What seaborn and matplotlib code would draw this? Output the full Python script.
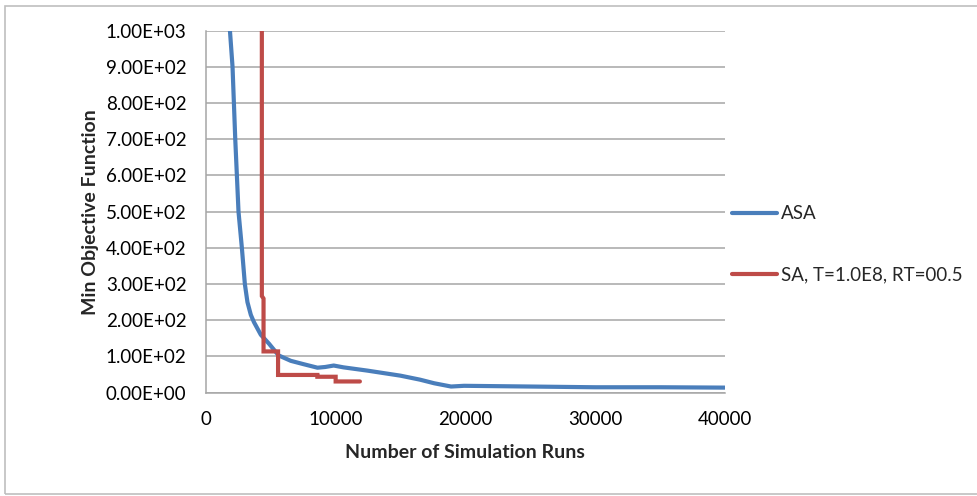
import matplotlib
matplotlib.use('Agg')
import matplotlib.pyplot as plt
from matplotlib.patches import Rectangle
from matplotlib.ticker import FuncFormatter
import pandas as pd
import seaborn as sns

# values
asa_runs = [1850, 2050, 2260, 2510, 2770, 3000, 3200, 3460, 3700, 4230, 4870, 5600,
            6540, 7500, 8600, 9200, 9850, 10600, 12440, 15000, 16500, 17600, 18900,
            19900, 25000, 30000, 35000, 40000]
asa_obj = [1000, 900, 700, 500, 400, 300, 250, 215, 195, 160, 135, 103,
           88, 79, 69, 71, 75, 70, 61, 47, 36, 26, 17,
           19, 17, 15, 15, 14]
sa_runs = [4310, 4310, 4440, 4440, 5560, 5560, 8590, 8590, 10000, 10000, 11870]
sa_obj = [1000, 267, 260, 114, 114, 49, 49, 44, 44, 31, 31]
labels = ['ASA', 'SA, T=1.0E8, RT=00.5']
colors = ['#4A7EBB', '#BE4B48']

sns.set_style('white')
plt.rcParams['font.family'] = ['Lato', 'DejaVu Sans']

fig = plt.figure(figsize=(9.77, 4.96), dpi=100)
ax = fig.add_axes([0.2108, 0.2083, 0.5310, 0.7298])

asa = pd.DataFrame({'runs': asa_runs, 'obj': asa_obj})
sa = pd.DataFrame({'runs': sa_runs, 'obj': sa_obj})
sns.lineplot(data=asa, x='runs', y='obj', ax=ax, color=colors[0], lw=3,
             sort=False, estimator=None, label=labels[0])
sns.lineplot(data=sa, x='runs', y='obj', ax=ax, color=colors[1], lw=3,
             sort=False, estimator=None, label=labels[1], solid_joinstyle='miter')

ax.set_xlim(0, 40000)
ax.set_ylim(0, 1000)
ax.set_xticks([0, 10000, 20000, 30000, 40000])
ax.set_yticks(range(0, 1001, 100))
ax.yaxis.set_major_formatter(FuncFormatter(lambda v, p: f'{v:.2E}'))
ax.grid(axis='y', color='#A6A6A6', lw=1.1)
ax.set_axisbelow(True)
for s in ['top', 'right']:
    ax.spines[s].set_visible(False)
for s in ['left', 'bottom']:
    ax.spines[s].set_color('#A6A6A6')
    ax.spines[s].set_linewidth(1.1)
ax.tick_params(axis='both', length=0, labelsize=13.5, colors='black')
ax.tick_params(axis='x', pad=13)
ax.tick_params(axis='y', pad=14)

ax.set_xlabel('Number of Simulation Runs', fontsize=14, fontweight='bold', labelpad=12)
ax.set_ylabel('Min Objective Function', fontsize=14, fontweight='bold', labelpad=5)

ax.legend(loc='center left', bbox_to_anchor=(0.995, 0.41), frameon=False,
          fontsize=13.5, handlelength=2.4, handletextpad=0.25, labelspacing=2.35,
          borderaxespad=0.1)

fig.patches.append(Rectangle((5 / 977, 2 / 496), 1.1, 488 / 496, transform=fig.transFigure,
                             fill=False, edgecolor='#BFBFBF', lw=1.2))

fig.savefig('out.png', dpi=100)
